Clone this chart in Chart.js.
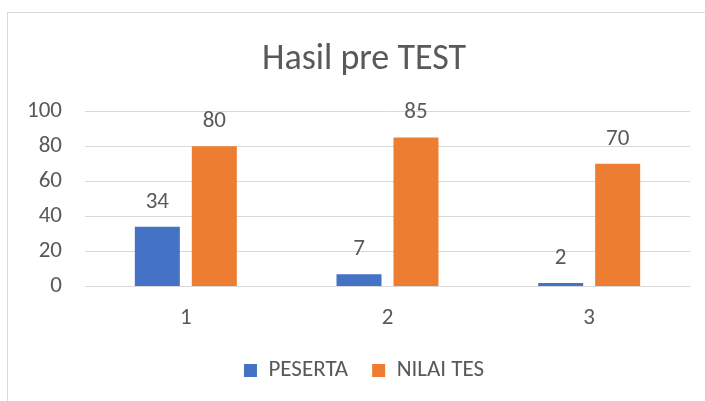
<!DOCTYPE html>
<html>
<head>
<meta charset="utf-8">
<script src="https://cdn.jsdelivr.net/npm/chart.js@4"></script>
<style>
  html, body { margin: 0; padding: 0; background: #ffffff; }
  #wrap { position: relative; width: 705px; height: 401px; }
</style>
</head>
<body>
<div id="wrap"><canvas id="c" width="705" height="401"></canvas></div>
<script>
const categories = ['1', '2', '3'];
const peserta = [34, 7, 2];
const nilaiTes = [80, 85, 70];
const seriesNames = ['PESERTA', 'NILAI TES'];
const chartTitle = 'Hasil pre TEST';

const FONT = 'Carlito, Calibri, "Liberation Sans", Arial, sans-serif';
const TEXT = '#595959';

const borderPlugin = {
  id: 'frame',
  beforeDraw(chart) {
    const ctx = chart.ctx;
    ctx.save();
    ctx.fillStyle = '#ffffff';
    ctx.fillRect(0, 0, chart.width, chart.height);
    ctx.strokeStyle = '#d9d9d9';
    ctx.lineWidth = 1;
    ctx.strokeRect(7.5, 12.5, 720, 420);
    ctx.restore();
  },
  afterLayout(chart) {
    // widen the y-axis label clip region so "100" is not cut
    if (chart.scales.y) chart.scales.y.left = 0;
  }
};

const labelPlugin = {
  id: 'valueLabels',
  afterDatasetsDraw(chart) {
    const ctx = chart.ctx;
    ctx.save();
    ctx.font = '23px ' + FONT;
    ctx.fillStyle = TEXT;
    ctx.textAlign = 'center';
    ctx.textBaseline = 'middle';
    chart.data.datasets.forEach((ds, i) => {
      const meta = chart.getDatasetMeta(i);
      meta.data.forEach((bar, j) => {
        ctx.fillText(String(ds.data[j]), bar.x, bar.y - 25);
      });
    });
    ctx.restore();
  }
};

new Chart(document.getElementById('c'), {
  type: 'bar',
  data: {
    labels: categories,
    datasets: [
      { label: seriesNames[0], data: peserta, backgroundColor: '#4472C4', borderWidth: 0 },
      { label: seriesNames[1], data: nilaiTes, backgroundColor: '#ED7D31', borderWidth: 0 }
    ]
  },
  options: {
    responsive: false,
    animation: false,
    devicePixelRatio: 1,
    layout: { padding: { top: 12, right: 15, left: 38, bottom: 9 } },
    datasets: { bar: { categoryPercentage: 0.565, barPercentage: 0.79 } },
    scales: {
      x: {
        afterFit(scale) { scale.height = 48.6; },
        grid: { display: false, drawTicks: false },
        border: { display: false },
        ticks: { color: TEXT, font: { family: FONT, size: 23 }, padding: 18 }
      },
      y: {
        min: 0, max: 100,
        afterFit(scale) { scale.width = 47; },
        grid: { color: '#d9d9d9', lineWidth: 1, drawTicks: false },
        border: { display: false },
        ticks: { stepSize: 20, color: TEXT, font: { family: FONT, size: 23 }, padding: 23 }
      }
    },
    plugins: {
      title: {
        display: true,
        text: chartTitle,
        color: TEXT,
        font: { family: FONT, size: 36, weight: 'normal' },
        padding: { top: 26, bottom: 30 }
      },
      legend: {
        position: 'bottom',
        labels: {
          color: TEXT,
          font: { family: FONT, size: 23 },
          boxWidth: 13,
          boxHeight: 13,
          padding: 24
        }
      },
      tooltip: { enabled: false }
    }
  },
  plugins: [borderPlugin, labelPlugin]
});
</script>
</body>
</html>
